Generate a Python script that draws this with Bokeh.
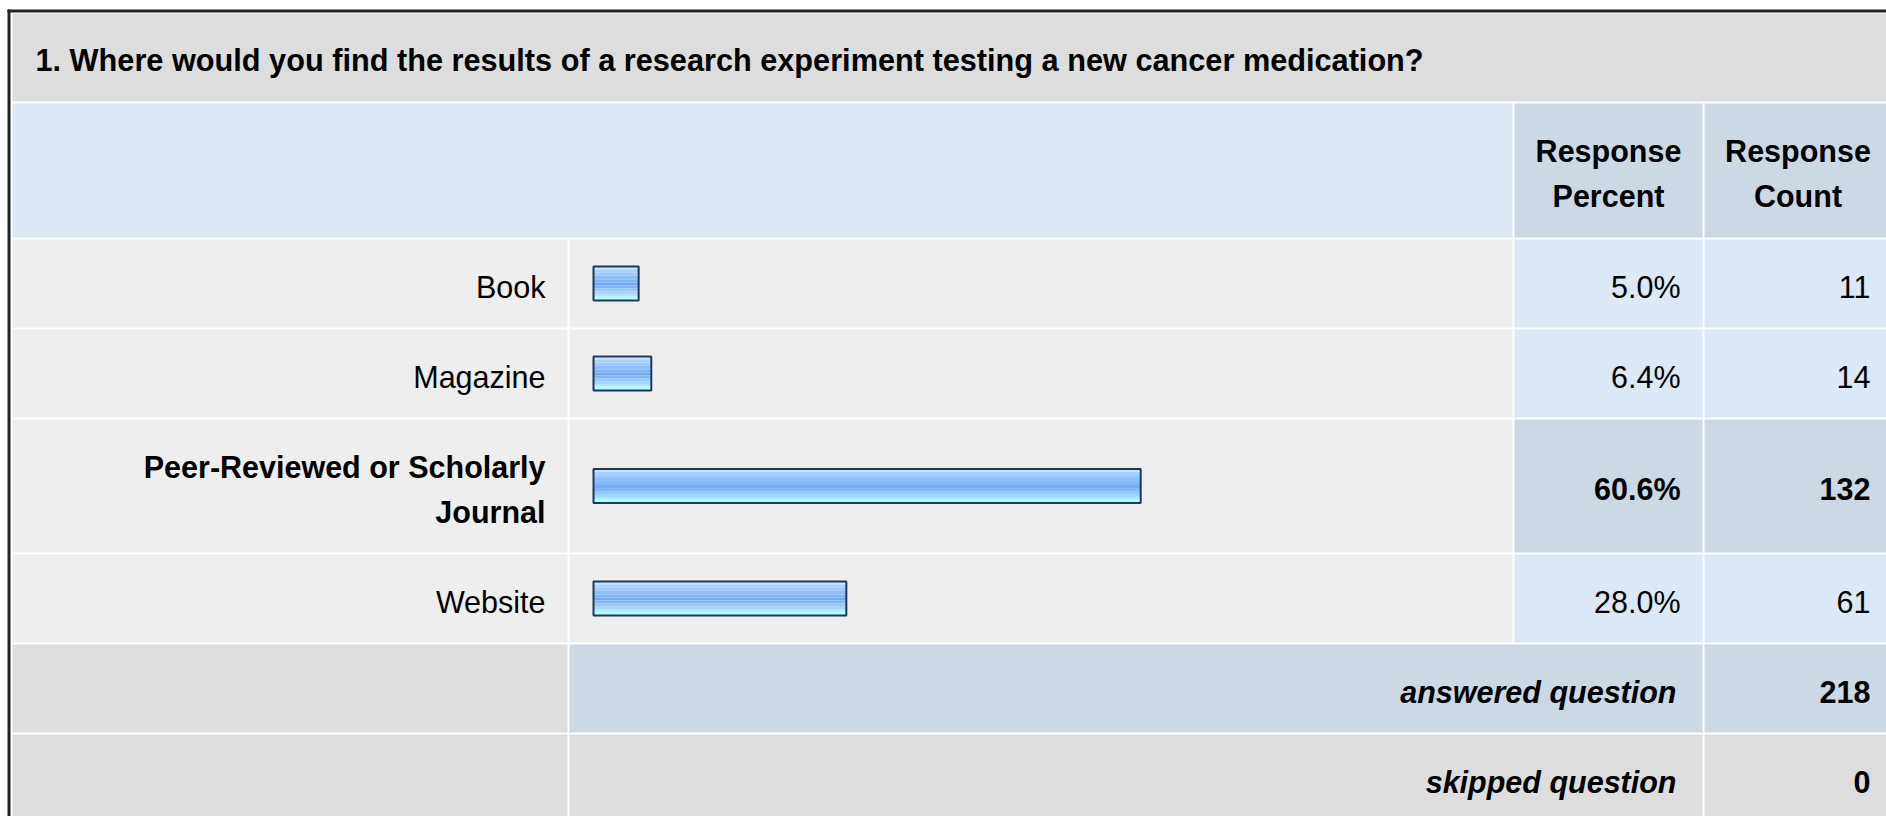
import textwrap
from bokeh.plotting import figure
from bokeh.models import Range1d
from bokeh.core.properties import value
from bokeh.embed import file_html
from bokeh.resources import INLINE

# ---------------- data ----------------
question = "1. Where would you find the results of a research experiment testing a new cancer medication?"
answers = ["Book", "Magazine", "Peer-Reviewed or Scholarly Journal", "Website"]
percents = [5.0, 6.4, 60.6, 28.0]
counts = [11, 14, 132, 61]
col_headers = [["Response", "Percent"], ["Response", "Count"]]
summary_labels = ["answered question", "skipped question"]
summary_values = [218, 0]

# ---------------- layout (page pixels) ----------------
W, H = 1886, 816
X0, Y0 = 0, 0
FS = "30.5px"
FS_TITLE = "30.7px"
FONT = "Liberation Sans"
LINE_H = 45
PAD_V = 43
GAP = 2

C_LABEL = (12, 567)
C_BAR = (569, 1512)
C_PCT = (1514, 1702)
C_CNT = (1704, 1891)
RIGHT = 1891

BAR_X0 = 593       # screen x of 0 %
PX_PER_PCT = 9.03  # pixels per percent

GRAY = "#dddddd"
ROW = "#eeeeee"
BLUE = "#dce8f5"
BLUE2 = "#cdd8e5"

p = figure(width=W, height=H, output_backend="svg", toolbar_location=None,
           x_range=Range1d(X0, X0 + W), y_range=Range1d(Y0 + H, Y0),
           x_axis_location=None, y_axis_location=None,
           min_border=0, outline_line_color=None,
           background_fill_color="white", border_fill_color="white")
p.grid.visible = False
p.extra_x_ranges = {"pct": Range1d((X0 - BAR_X0) / PX_PER_PCT, (X0 + W - BAR_X0) / PX_PER_PCT)}

cells = dict(left=[], right=[], top=[], bottom=[], color=[])


def cell(l, r, t, b, c):
    cells["left"].append(l)
    cells["right"].append(r)
    cells["top"].append(t)
    cells["bottom"].append(b)
    cells["color"].append(c)


texts = []


def txt(x, y, s, align="left", style="normal", size=FS):
    texts.append((x, y, s, align, style, size))


# outer border
cell(7, 10, 9, Y0 + H, "#222222")
cell(7, RIGHT, 9, 12, "#222222")

# title bar
y = 13
h = LINE_H + PAD_V
cell(12, RIGHT, y, y + h, GRAY)
txt(35, y + h / 2 + 3, question, "left", "bold", FS_TITLE)
y += h + GAP

# header
h = 2 * LINE_H + 44
cell(12, C_BAR[1], y, y + h, BLUE)
cell(C_PCT[0], C_PCT[1], y, y + h, BLUE2)
cell(C_CNT[0], C_CNT[1], y, y + h, BLUE2)
for (l, r), lines in zip([C_PCT, C_CNT], col_headers):
    cx = (l + r) / 2
    for i, line in enumerate(lines):
        txt(cx, y + h / 2 + 3 + (i - (len(lines) - 1) / 2) * LINE_H, line, "center", "bold")
y += h + GAP

# body rows
imax = percents.index(max(percents))
centers = []
for i, (ans, pc, ct) in enumerate(zip(answers, percents, counts)):
    lines = textwrap.wrap(ans, 26)
    h = PAD_V + LINE_H * len(lines)
    hi = (i == imax)
    cell(C_LABEL[0], C_LABEL[1], y, y + h, ROW)
    cell(C_BAR[0], C_BAR[1], y, y + h, ROW)
    cell(C_PCT[0], C_PCT[1], y, y + h, BLUE2 if hi else BLUE)
    cell(C_CNT[0], C_CNT[1], y, y + h, BLUE2 if hi else BLUE)
    cy = y + h / 2
    centers.append(cy)
    st = "bold" if hi else "normal"
    for k, line in enumerate(lines):
        txt(545, cy + 3 + (k - (len(lines) - 1) / 2) * LINE_H, line, "right", st)
    txt(1680, cy + 3, f"{pc:.1f}%", "right", st)
    txt(1870, cy + 3, f"{ct}", "right", st)
    y += h + GAP

# summary rows
for j, (lab, val) in enumerate(zip(summary_labels, summary_values)):
    h = PAD_V + LINE_H
    mid = BLUE2 if j == 0 else GRAY
    cell(C_LABEL[0], C_LABEL[1], y, y + h, GRAY)
    cell(C_BAR[0], C_PCT[1], y, y + h, mid)
    cell(C_CNT[0], C_CNT[1], y, y + h, mid)
    cy = y + h / 2
    txt(1676, cy + 3, lab, "right", "bold italic")
    txt(1870, cy + 3, f"{val}", "right", "bold")
    y += h + GAP

p.quad(left="left", right="right", top="top", bottom="bottom", color="color",
       source=cells, line_color=None)

# bars: gradient bands then border
bands = [(2, "#c6e2ff"), (3, "#a9d3ff"), (3, "#9dcbff"), (4, "#8dc0fa"), (3, "#80b6f3"),
         (3, "#74acee"), (3, "#80b7f4"), (3, "#95c8fd"), (3, "#a2d6ff"), (2, "#a9e6ff"),
         (3, "#b2ffff")]
BAR_INNER = sum(b[0] for b in bands)
off = -BAR_INNER / 2
for bh, bc in bands:
    p.hbar(y=[c + off + bh / 2 for c in centers], height=bh, left=0, right=percents,
           x_range_name="pct", fill_color=bc, line_color=None)
    off += bh
p.hbar(y=centers, height=BAR_INNER + 2, left=0, right=percents, x_range_name="pct",
       fill_color=None, line_color="#1d3860", line_width=2)

for (x, yy, s, align, style, size) in texts:
    p.text(x=[x], y=[yy], text=[s], text_font=value(FONT), text_font_size=size,
           text_font_style=style, text_align=align, text_baseline="middle",
           text_color="black")

open("out.html", "w").write(file_html(p, INLINE))
